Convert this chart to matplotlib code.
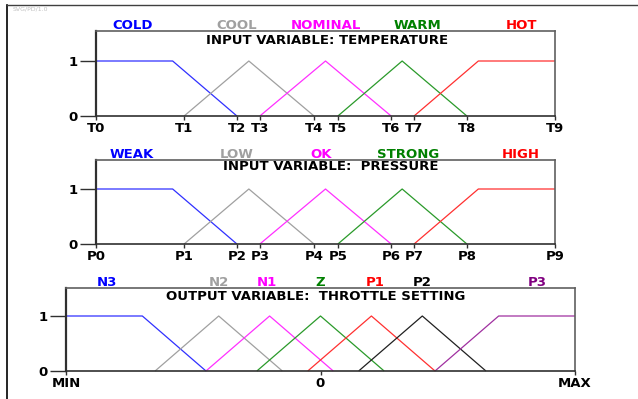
import matplotlib
matplotlib.use("Agg")
import matplotlib.pyplot as plt
from matplotlib.lines import Line2D

W, H = 638, 399

# --- temperature (x in 0..100 across the panel)
temp_ticks = [0, 19.2, 30.7, 35.7, 47.5, 52.7, 64.3, 69.3, 80.8, 100]
temp_tick_labels = ["T0", "T1", "T2", "T3", "T4", "T5", "T6", "T7", "T8", "T9"]
temp_sets = ["COLD", "COOL", "NOMINAL", "WARM", "HOT"]
temp_x = [
    [0, 16.7, 30.7],
    [19.2, 33.3, 47.5],
    [35.7, 50.0, 64.3],
    [52.7, 66.7, 80.8],
    [69.3, 83.3, 100],
]
temp_label_x = [8, 30.7, 50, 70, 92.8]

# --- pressure
pres_ticks = [0, 19.2, 30.7, 35.7, 47.5, 52.7, 64.3, 69.3, 80.8, 100]
pres_tick_labels = ["P0", "P1", "P2", "P3", "P4", "P5", "P6", "P7", "P8", "P9"]
pres_sets = ["WEAK", "LOW", "OK", "STRONG", "HIGH"]
pres_x = [
    [0, 16.7, 30.7],
    [19.2, 33.3, 47.5],
    [35.7, 50.0, 64.3],
    [52.7, 66.7, 80.8],
    [69.3, 83.3, 100],
]
pres_label_x = [7.8, 30.7, 49, 68, 92.5]

# --- throttle (x in -100..100)
thr_ticks = [-100, 0, 100]
thr_tick_labels = ["MIN", "0", "MAX"]
thr_sets = ["N3", "N2", "N1", "Z", "P1", "P2", "P3"]
thr_x = [
    [-100, -70, -45],
    [-65, -40, -15],
    [-45, -20, 5],
    [-25, 0, 25],
    [-5, 20, 45],
    [15, 40, 65],
    [45, 70, 100],
]
thr_label_x = [-84, -40, -21, 0, 21.5, 40, 85]

five_colors = ["#3030ff", "#a0a0a0", "#ff30ff", "#2a9a2a", "#ff3030"]
seven_colors = ["#3030ff", "#a0a0a0", "#ff30ff", "#2a9a2a", "#ff3030", "#202020", "#a030a0"]
five_label_colors = ["#0000ff", "#a0a0a0", "#ff00ff", "#008000", "#ff0000"]
seven_label_colors = ["#0000ff", "#a0a0a0", "#ff00ff", "#008000", "#ff0000", "#000000", "#800080"]

FONT = dict(family="DejaVu Sans", fontweight="bold")
FS = 9.5


def px_axes(fig, left, right, top, bottom):
    return fig.add_axes([left / W, 1 - bottom / H, (right - left) / W, (bottom - top) / H])


def panel(fig, left, right, top, y0, y1, xlim, ticks, tick_labels, sets, xs,
          label_x, colors, label_colors, title, title_dy):
    ax = px_axes(fig, left, right, top, y0)
    ax.set_xlim(*xlim)
    ax.set_ylim(0, (y0 - top) / (y0 - y1))
    n = len(sets)
    for i, (pts, c) in enumerate(zip(xs, colors)):
        if i == 0:
            ys = [1, 1, 0]
        elif i == n - 1:
            ys = [0, 1, 1]
        else:
            ys = [0, 1, 0]
        ax.plot(pts, ys, color=c, lw=0.9, solid_capstyle="butt", clip_on=False)
    # set names sit just above the frame
    for name, lx, c in zip(sets, label_x, label_colors):
        ax.text(lx, 1 + 2 / (y0 - top), name, transform=ax.get_xaxis_transform(),
                color=c, ha="center", va="baseline", fontsize=FS, **FONT,
                clip_on=False)
    ax.text(0.5 + title_dy[0], 1 - title_dy[1] / (y0 - top), title,
            transform=ax.transAxes, ha="center", va="center", fontsize=FS, **FONT)
    ax.set_xticks(ticks)
    ax.set_xticklabels(tick_labels, **FONT, fontsize=FS)
    ax.set_yticks([0, 1])
    ax.set_yticklabels(["0", "1"], **FONT, fontsize=FS)
    ax.tick_params(axis="y", length=11.5, width=1.0, pad=1.5, color="#303030")
    ax.tick_params(axis="x", length=3, width=1.0, pad=1.0, color="#303030")
    ax.spines["left"].set_color("#303030")
    ax.spines["left"].set_linewidth(1.6)
    ax.spines["bottom"].set_color("#303030")
    ax.spines["bottom"].set_linewidth(1.2)
    for s in ("top", "right"):
        ax.spines[s].set_color("#606060")
        ax.spines[s].set_linewidth(1.2)
    ax.set_facecolor("none")
    return ax


fig = plt.figure(figsize=(W / 100, H / 100), dpi=100)

# page border
fig.add_artist(Line2D([7 / W, 7 / W], [0, 1 - 5 / H], color="black", lw=1.2))
fig.add_artist(Line2D([7 / W, 1], [1 - 5 / H, 1 - 5 / H], color="#404040", lw=1.0))
fig.text(13 / W, 1 - 9 / H, "SVG/PD/1.0", color="#c0c0c0", fontsize=4.5,
         family="DejaVu Sans", va="center", ha="left")

panel(fig, 96, 555, 31, 116, 61, (0, 100), temp_ticks, temp_tick_labels,
      temp_sets, temp_x, temp_label_x, five_colors, five_label_colors,
      "INPUT VARIABLE: TEMPERATURE", (0.003, 10))
panel(fig, 96, 555, 160, 244, 189, (0, 100), pres_ticks, pres_tick_labels,
      pres_sets, pres_x, pres_label_x, five_colors, five_label_colors,
      "INPUT VARIABLE:  PRESSURE", (0.012, 7))
panel(fig, 66, 575, 288, 371, 316, (-100, 100), thr_ticks, thr_tick_labels,
      thr_sets, thr_x, thr_label_x, seven_colors, seven_label_colors,
      "OUTPUT VARIABLE:  THROTTLE SETTING", (-0.01, 9))

fig.savefig("out.png", dpi=100)
